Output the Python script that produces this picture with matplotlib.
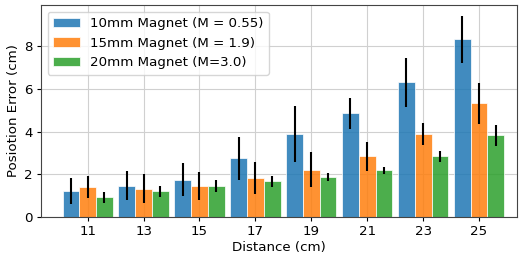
import numpy as np
import matplotlib
matplotlib.use("Agg")
import matplotlib.pyplot as plt

distance = [11, 13, 15, 17, 19, 21, 23, 25]

err_10mm = [1.20, 1.47, 1.75, 2.75, 3.88, 4.85, 6.30, 8.32]
std_10mm = [0.61, 0.69, 0.78, 1.00, 1.32, 0.71, 1.14, 1.10]

err_15mm = [1.39, 1.33, 1.45, 1.81, 2.22, 2.83, 3.88, 5.32]
std_15mm = [0.52, 0.66, 0.67, 0.74, 0.81, 0.67, 0.52, 0.95]

err_20mm = [0.91, 1.20, 1.45, 1.66, 1.86, 2.19, 2.83, 3.82]
std_20mm = [0.25, 0.27, 0.30, 0.26, 0.18, 0.17, 0.28, 0.50]

labels = ['10mm Magnet (M = 0.55)', '15mm Magnet (M = 1.9)', '20mm Magnet (M=3.0)']

x = np.array(distance, dtype=float)
w = 0.6
fs = 9.6

fig = plt.figure(figsize=(5.22, 2.57), dpi=100)
ax = fig.add_axes([0.0785, 0.156, 0.9115, 0.825])
ax.set_axisbelow(True)
ax.grid(True, color='#d0d0d0', linewidth=0.8)

ekw = dict(ecolor='black', elinewidth=1.5, capsize=0)
ax.bar(x - w, err_10mm, w, yerr=std_10mm, color='tab:blue', alpha=0.85,
       edgecolor='white', linewidth=0.6, error_kw=ekw, label=labels[0])
ax.bar(x, err_15mm, w, yerr=std_15mm, color='tab:orange', alpha=0.85,
       edgecolor='white', linewidth=0.6, error_kw=ekw, label=labels[1])
ax.bar(x + w, err_20mm, w, yerr=std_20mm, color='tab:green', alpha=0.85,
       edgecolor='white', linewidth=0.6, error_kw=ekw, label=labels[2])

ax.set_xticks(distance)
ax.set_xlim(9.33, 26.35)
ax.set_ylim(0, 9.93)
ax.set_yticks([0, 2, 4, 6, 8])
ax.tick_params(labelsize=fs, length=3, pad=3)
ax.set_xlabel('Distance (cm)', fontsize=fs, labelpad=2)
ax.set_ylabel('Posiotion Error (cm)', fontsize=fs, labelpad=3)
for s in ax.spines.values():
    s.set_color('#444444')
ax.legend(loc='upper left', fontsize=fs)

fig.savefig('out.png', dpi=100)
